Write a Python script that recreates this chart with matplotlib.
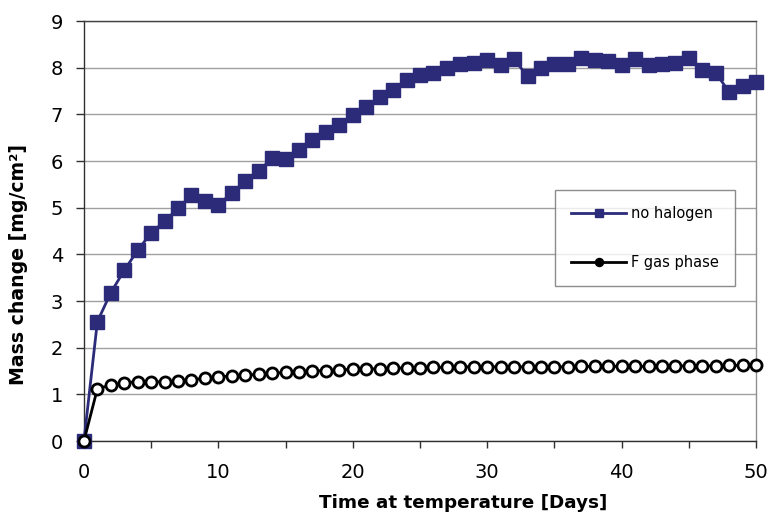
import matplotlib
matplotlib.use('Agg')
import matplotlib.pyplot as plt

days = list(range(0, 51))

no_halogen = [0, 2.56, 3.18, 3.66, 4.09, 4.46, 4.71, 4.99, 5.27, 5.14,
              5.06, 5.32, 5.57, 5.79, 6.06, 6.04, 6.24, 6.46, 6.63, 6.77,
              6.99, 7.16, 7.38, 7.53, 7.74, 7.84, 7.89, 8.00, 8.09, 8.11,
              8.16, 8.06, 8.18, 7.82, 8.00, 8.08, 8.09, 8.22, 8.16, 8.14,
              8.06, 8.18, 8.06, 8.08, 8.10, 8.22, 7.96, 7.89, 7.48, 7.62,
              7.70]

f_gas = [0, 1.12, 1.20, 1.25, 1.27, 1.27, 1.27, 1.28, 1.31, 1.35,
         1.38, 1.39, 1.41, 1.43, 1.45, 1.47, 1.48, 1.50, 1.51, 1.52,
         1.54, 1.54, 1.55, 1.56, 1.57, 1.57, 1.58, 1.58, 1.59, 1.59,
         1.59, 1.59, 1.59, 1.59, 1.59, 1.59, 1.59, 1.60, 1.60, 1.60,
         1.60, 1.60, 1.60, 1.60, 1.61, 1.61, 1.61, 1.61, 1.62, 1.62,
         1.63]

x_ticks = [0, 10, 20, 30, 40, 50]
y_ticks = list(range(0, 10))

plt.rcParams['font.family'] = ['DejaVu Sans']

fig = plt.figure(figsize=(7.7, 5.17), dpi=100)
ax = fig.add_axes([0.109, 0.147, 0.873, 0.812])

navy = '#2b2b7a'
ax.plot(days, no_halogen, color=navy, lw=2.0, marker='s', ms=9.5,
        mfc=navy, mec=navy, label='no halogen', zorder=3, clip_on=False)
ax.plot(days, f_gas, color='black', lw=2.0, marker='o', ms=8,
        mfc='white', mec='black', mew=2.0, label='F gas phase', zorder=4,
        clip_on=False)

ax.set_xlim(0, 50)
ax.set_ylim(0, 9)
ax.set_xticks(x_ticks)
ax.set_xticks(range(0, 51, 5), minor=True)
ax.set_yticks(y_ticks)
ax.yaxis.grid(True, color='#a0a0a0', lw=1.0)
ax.set_axisbelow(True)

ax.spines['right'].set_color('#909090')
ax.spines['top'].set_color('#404040')
for s in ['left', 'bottom']:
    ax.spines[s].set_color('#303030')
for s in ax.spines:
    ax.spines[s].set_linewidth(1.0)

ax.tick_params(axis='y', direction='out', length=6, width=1, pad=9,
               labelsize=14, color='#303030')
ax.tick_params(axis='x', which='both', direction='out', length=5, width=1,
               pad=11, labelsize=14, color='#303030')

ax.set_xlabel('Time at temperature [Days]', fontsize=13.2, fontweight='bold')
ax.set_ylabel('Mass change [mg/cm²]', fontsize=13.6, fontweight='bold')
ax.xaxis.set_label_coords(0.564, -0.126)
ax.yaxis.set_label_coords(-0.083, 0.42)

leg = ax.legend(loc='upper left', bbox_to_anchor=(0.701, 0.598),
                fontsize=10.5, frameon=True, fancybox=False, edgecolor='#707070',
                markerscale=0.6, handlelength=3.75, labelspacing=2.35,
                borderpad=1.1, handletextpad=0.35, borderaxespad=0)
leg.get_frame().set_linewidth(1.0)
for h in leg.legend_handles:
    h.set_markerfacecolor(h.get_color())

fig.savefig('out.png', dpi=100)
plt.close()
